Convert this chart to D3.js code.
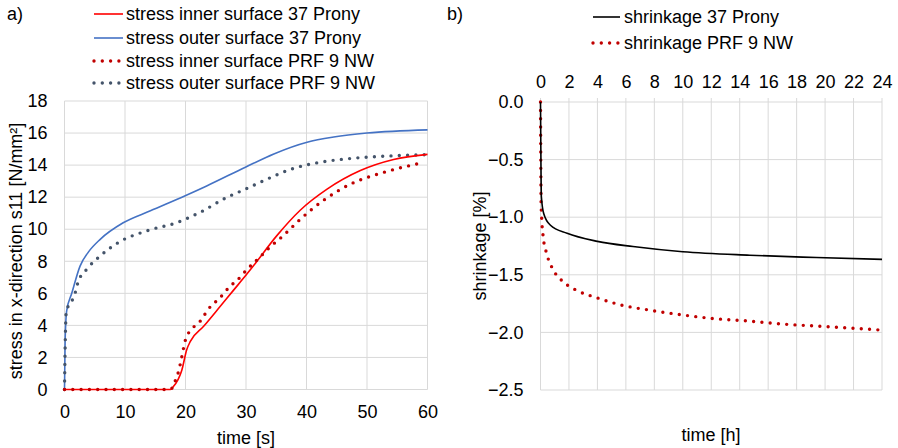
<!DOCTYPE html>
<html><head><meta charset="utf-8">
<script src="https://cdn.jsdelivr.net/npm/d3@7"></script>
<style>body{margin:0;background:#fff}svg{display:block}text{font-family:"Liberation Sans",Arial,sans-serif;font-size:18px;fill:#000}</style>
</head><body>
<script>
// ---- Data: chart a) stress ----
const xTicksA = [0,10,20,30,40,50,60];
const yTicksA = [0,2,4,6,8,10,12,14,16,18];
const outerPronyT = [0,0.1,0.36,1.2,2.57,4,5.9,9.7,14.2,19.95,23.5,29.9,34.6,40.1,44.5,50,60];
const outerPronyV = [0,3,4.9,6.0,7.7,8.6,9.37,10.4,11.15,12.09,12.7,13.87,14.7,15.43,15.75,16.0,16.2];
const outerPrfT = [0,0.1,0.3,0.9,1.57,2.3,3.67,5.9,8.9,13.6,18.6,22.4,26.85,29.9,33.5,37.9,42.3,47.8,55.5,59.6];
const outerPrfV = [0,2.5,4.9,5.34,5.8,6.76,7.5,8.33,9.17,9.9,10.42,11.05,11.99,12.5,13.13,13.8,14.18,14.43,14.6,14.65];
const innerPronyT = [0,17.5,18.0,19.4,20.2,20.8,23,25.75,27.95,29.6,31.3,35.1,39,43.4,48.9,54.4,60];
const innerPronyV = [0,0,0.18,1.22,2.48,3.0,3.94,5.19,6.2,6.95,7.75,9.6,11.2,12.5,13.66,14.35,14.67];
const innerPrfT = [0,17.5,17.8,18.4,18.85,19.4,19.95,20.5,21.3,22.4,23.8,25.7,27.4,28.5,30.2,32.4,34,36.1,39,43.1,47.3,52.8,59.1];
const innerPrfV = [0,0,0.1,0.64,1.12,2.06,3.04,3.52,3.88,4.25,5.03,5.72,6.45,6.8,7.5,8.3,8.9,9.58,10.63,11.88,12.82,13.55,14.14];
const legendA = ["stress inner surface 37 Prony","stress outer surface 37 Prony","stress inner surface PRF 9 NW","stress outer surface PRF 9 NW"];

// ---- Data: chart b) shrinkage ----
const xTicksB = [0,2,4,6,8,10,12,14,16,18,20,22,24];
const yTicksB = [0,-0.5,-1,-1.5,-2,-2.5];
const shrinkPronyT = [0,0.03,0.06,0.23,0.7,1.87,4,6.5,10,14.7,19.4,24];
const shrinkPronyV = [0,-0.5,-0.82,-0.97,-1.07,-1.14,-1.21,-1.255,-1.30,-1.33,-1.35,-1.366];
const shrinkPrfT = [0,0.02,0.04,0.08,0.19,0.42,0.82,1.5,2.46,3.98,5.6,7.84,10.06,12.16,14.5,17.3,20.1,24];
const shrinkPrfV = [0,-0.5,-0.86,-1.0,-1.17,-1.31,-1.44,-1.55,-1.63,-1.70,-1.76,-1.81,-1.85,-1.88,-1.90,-1.93,-1.95,-1.98];
const legendB = ["shrinkage 37 Prony","shrinkage PRF 9 NW"];

const W = 898, H = 448;
const svg = d3.select("body").append("svg").attr("width", W).attr("height", H);
const grid = "#D9D9D9";
const zip = (t, v) => t.map((d, i) => [d, v[i]]);
const tickFont = a => { a.select(".domain").remove(); a.selectAll("text").attr("font-size", 16).attr("fill", "#000").attr("font-family", '"Liberation Sans",Arial,sans-serif'); };

// ===== Chart a =====
const xA = d3.scaleLinear().domain([0,60]).range([64.5,427.5]);
const yA = d3.scaleLinear().domain([0,18]).range([389.5,101]);
const gA = svg.append("g");
gA.selectAll(".vg").data(xTicksA.slice(1)).enter().append("line")
  .attr("x1", d => xA(d)).attr("x2", d => xA(d)).attr("y1", yA(0)).attr("y2", yA(18))
  .attr("stroke", grid).attr("stroke-width", 1);
gA.selectAll(".hg").data(yTicksA.slice(1)).enter().append("line")
  .attr("x1", xA(0)).attr("x2", xA(60)).attr("y1", d => yA(d)).attr("y2", d => yA(d))
  .attr("stroke", grid).attr("stroke-width", 1);
gA.append("line").attr("x1", xA(0)).attr("x2", xA(0)).attr("y1", yA(0)).attr("y2", yA(18)).attr("stroke", grid);
gA.append("line").attr("x1", xA(0)).attr("x2", xA(60)).attr("y1", yA(0)).attr("y2", yA(0)).attr("stroke", grid);

tickFont(gA.append("g").attr("transform", `translate(0,${yA(0)})`)
  .call(d3.axisBottom(xA).tickValues(xTicksA).tickSize(0).tickPadding(16)));
tickFont(gA.append("g").attr("transform", `translate(${xA(0)},0)`)
  .call(d3.axisLeft(yA).tickValues(yTicksA).tickSize(0).tickPadding(17)));

const lineA = d3.line().x(d => xA(d[0])).y(d => yA(d[1])).curve(d3.curveMonotoneX);
const dotted = (sel, color) => sel.attr("stroke", color).attr("stroke-width", 3.4).attr("stroke-linecap", "round").attr("stroke-dasharray", "0 8.3").attr("fill", "none");
gA.append("path").datum(zip(outerPronyT, outerPronyV)).attr("d", lineA).attr("fill", "none").attr("stroke", "#4472C4").attr("stroke-width", 1.6);
dotted(gA.append("path").datum(zip(outerPrfT, outerPrfV)).attr("d", lineA), "#44546A");
gA.append("path").datum(zip(innerPronyT, innerPronyV)).attr("d", lineA).attr("fill", "none").attr("stroke", "#FF0000").attr("stroke-width", 1.6);
dotted(gA.append("path").datum(zip(innerPrfT, innerPrfV)).attr("d", lineA), "#C00000");

svg.append("text").attr("x", 7).attr("y", 20).text("a)");
svg.append("text").attr("transform", `translate(22,251) rotate(-90)`).attr("text-anchor", "middle").text("stress in x-direction s11 [N/mm²]");
svg.append("text").attr("x", (xA(0)+xA(60))/2).attr("y", 444).attr("text-anchor", "middle").text("time [s]");

const legColorsA = ["#FF0000","#4472C4","#C00000","#44546A"];
const legYA = [14, 38, 61, 83];
legendA.forEach((s, i) => {
  const ln = svg.append("line").attr("x1", 94).attr("x2", 123).attr("y1", legYA[i]).attr("y2", legYA[i]);
  if (i < 2) ln.attr("stroke", legColorsA[i]).attr("stroke-width", 1.6);
  else dotted(ln, legColorsA[i]);
  svg.append("text").attr("x", 126).attr("y", legYA[i]).attr("dy", "0.35em").text(s);
});

// ===== Chart b =====
const xB = d3.scaleLinear().domain([0,24]).range([540.5,882]);
const yB = d3.scaleLinear().domain([-2.5,0]).range([390,102]);
const gB = svg.append("g");
gB.selectAll(".vg").data(xTicksB).enter().append("line")
  .attr("x1", d => xB(d)).attr("x2", d => xB(d)).attr("y1", yB(-2.5)).attr("y2", yB(0) - 4)
  .attr("stroke", grid).attr("stroke-width", 1);
gB.selectAll(".hg").data(yTicksB).enter().append("line")
  .attr("x1", xB(0)).attr("x2", xB(24)).attr("y1", d => yB(d)).attr("y2", d => yB(d))
  .attr("stroke", grid).attr("stroke-width", 1);
tickFont(gB.append("g").attr("transform", `translate(0,${yB(0)})`)
  .call(d3.axisTop(xB).tickValues(xTicksB).tickSize(0).tickPadding(14)));
tickFont(gB.append("g").attr("transform", `translate(${xB(0)},0)`)
  .call(d3.axisLeft(yB).tickValues(yTicksB).tickFormat(d3.format(".1f")).tickSize(0).tickPadding(17)));

const lineB = d3.line().x(d => xB(d[0])).y(d => yB(d[1])).curve(d3.curveMonotoneX);
dotted(gB.append("path").datum(zip(shrinkPrfT, shrinkPrfV)).attr("d", lineB), "#C00000");
gB.append("path").datum(zip(shrinkPronyT, shrinkPronyV)).attr("d", lineB).attr("fill", "none").attr("stroke", "#000").attr("stroke-width", 1.6);

svg.append("text").attr("x", 447).attr("y", 20).text("b)");
svg.append("text").attr("transform", `translate(486,${(yB(0)+yB(-2.5))/2}) rotate(-90)`).attr("text-anchor", "middle").text("shrinkage [%]");
svg.append("text").attr("x", 711).attr("y", 441).attr("text-anchor", "middle").text("time [h]");

const legYB = [17, 43];
legendB.forEach((s, i) => {
  const ln = svg.append("line").attr("x1", 593).attr("x2", 620).attr("y1", legYB[i]).attr("y2", legYB[i]);
  if (i === 0) ln.attr("stroke", "#000").attr("stroke-width", 1.6);
  else dotted(ln, "#C00000");
  svg.append("text").attr("x", 624).attr("y", legYB[i]).attr("dy", "0.35em").text(s);
});
</script>
</body></html>
